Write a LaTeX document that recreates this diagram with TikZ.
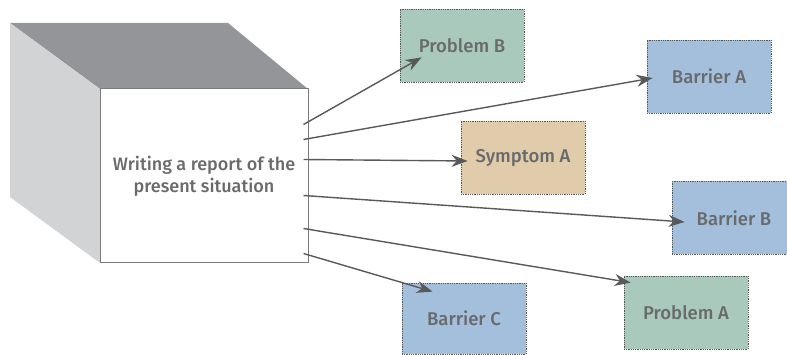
\documentclass[tikz,border=0pt]{standalone}
\usepackage{fontspec}
\setmainfont{Fira Sans}[UprightFont=* Medium]
\usepackage{xcolor}
\usetikzlibrary{shapes,arrows,arrows.meta,positioning}
\definecolor{txtgray}{HTML}{58595B}
\definecolor{topgray}{HTML}{939598}
\definecolor{sidegray}{HTML}{D1D3D4}
\definecolor{probgreen}{HTML}{A8C9BC}
\definecolor{barblue}{HTML}{A3BFDB}
\definecolor{symtan}{HTML}{E0CCAB}
\tikzstyle{arrow} = [line width=1.4pt,draw=txtgray,-{Stealth[length=16pt,width=12pt]}]
\tikzstyle{card} = [draw=txtgray,densely dotted,line width=0.8pt,minimum width=124pt,minimum height=73pt,text=txtgray!90,font=\fontsize{18.5}{20}\selectfont]

\begin{document}
\begin{tikzpicture}[
  x=1pt, y=-1pt,
  every node/.style={align=center}
]
\useasboundingbox (0,0) rectangle (787,355);
% 立方体
\fill[topgray] (10,23) -- (228,23) -- (308,89) -- (100,89) -- cycle;
\fill[sidegray] (10,23) -- (100,89) -- (100,263) -- (10,197) -- cycle;
\node[draw=txtgray!80,line width=1pt,fill=white,minimum width=208pt,minimum height=174pt,
  text=txtgray!90,font=\fontsize{18}{22}\selectfont] (report) at (204,176)
  {Writing a report of the\\present situation};
% 方框
\node[card,fill=probgreen] (probB) at (462,45.5) {Problem B};
\node[card,fill=barblue] (barA) at (709,76.5) {Barrier A};
\node[card,fill=symtan] (symA) at (523,157.5) {Symptom A};
\node[card,fill=barblue] (barB) at (734,218) {Barrier B};
\node[card,fill=probgreen] (probA) at (686,312.5) {Problem A};
\node[card,fill=barblue,minimum height=71pt] (barC) at (464,318.5) {Barrier C};
% 箭头
\draw[arrow] ([xshift=-5pt,yshift=-36pt]report.north east) -- ([xshift=22pt,yshift=25pt]probB.south west);
\draw[arrow] ([xshift=-5pt,yshift=-51pt]report.north east) -- ([xshift=6pt,yshift=-1.5pt]barA.west);
\draw[arrow] ([xshift=-5pt,yshift=-71pt]report.north east) -- ([xshift=7pt,yshift=-3.5pt]symA.west);
\draw[arrow] ([xshift=-5pt,yshift=-107pt]report.north east) -- ([xshift=13pt,yshift=-4pt]barB.west);
\draw[arrow] ([xshift=-5pt,yshift=35pt]report.south east) -- ([xshift=7pt,yshift=-7pt]probA.north west);
\draw[arrow] ([xshift=-5pt,yshift=10pt]report.south east) -- ([xshift=31pt,yshift=-9pt]barC.north west);
\end{tikzpicture}
\end{document}
